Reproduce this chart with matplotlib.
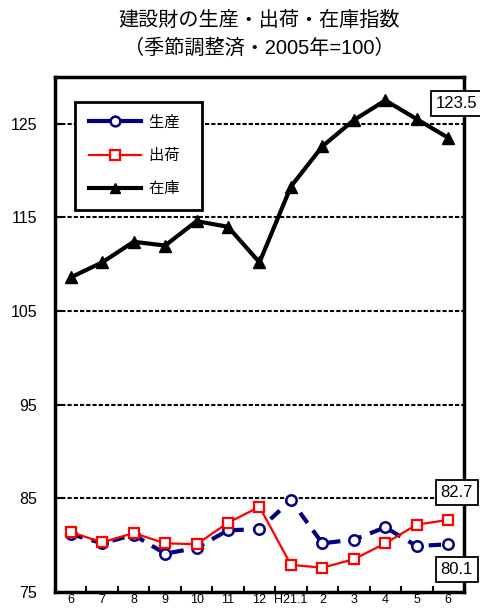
import matplotlib
matplotlib.use("Agg")
import matplotlib.pyplot as plt
from matplotlib.lines import Line2D

plt.rcParams['font.family'] = ['Liberation Sans', 'Noto Sans CJK JP', 'DejaVu Sans']

# data
months = ['6', '7', '8', '9', '10', '11', '12', 'H21.1', '2', '3', '4', '5', '6']
seisan = [81.2, 80.2, 81.1, 79.1, 79.7, 81.6, 81.7, 84.8, 80.2, 80.6, 81.9, 79.9, 80.1]
shukka = [81.4, 80.3, 81.3, 80.2, 80.1, 82.4, 84.1, 77.9, 77.6, 78.5, 80.2, 82.2, 82.7]
zaiko = [108.6, 110.2, 112.4, 112.0, 114.6, 114.0, 110.2, 118.3, 122.6, 125.4, 127.5, 125.5, 123.5]
yticks = [75, 85, 95, 105, 115, 125]

fig = plt.figure(figsize=(4.8, 6.09), dpi=100)
ax = fig.add_axes([0.1146, 0.0279, 0.852, 0.8457])

x = list(range(len(months)))

#grid lines
for yv in yticks[1:]:
    ax.axhline(yv, color='black', lw=1.5, ls=(0, (2, 1)), zorder=1)

ax.plot(x, seisan, color='#000080', lw=3, ls=(0, (3, 2.2)), marker='o', ms=7.5,
        mfc='white', mec='#000080', mew=1.8, zorder=3)
ax.plot(x, shukka, color='red', lw=1.6, marker='s', ms=6.5,
        mfc='white', mec='red', mew=1.6, zorder=4)
ax.plot(x, zaiko, color='black', lw=3, marker='^', ms=8, mfc='black', mec='black', zorder=5)

ax.set_xlim(-0.5, 12.5)
ax.set_ylim(75, 130)
ax.set_yticks(yticks)
ax.set_yticklabels([str(v) for v in yticks], fontsize=11.5)
ax.tick_params(axis='y', direction='in', length=5, width=1.5, pad=13)
ax.set_xticks(x)
ax.set_xticklabels(months, fontsize=9)
ax.tick_params(axis='x', which='major', length=0, pad=1.5)
ax.set_xticks([i + 0.5 for i in range(12)], minor=True)
ax.tick_params(axis='x', which='minor', direction='in', length=4, width=1.5)
for s in ax.spines.values():
    s.set_linewidth(2.5)

#value boxes
box = dict(boxstyle='square,pad=0.3', fc='white', ec='black', lw=1.3)
ax.text(12.27, 127.2, '123.5', ha='center', va='center', fontsize=12, bbox=box, clip_on=False, zorder=6)
ax.text(12.27, 85.6, '82.7', ha='center', va='center', fontsize=12, bbox=box, clip_on=False, zorder=6)
ax.text(12.27, 77.4, '80.1', ha='center', va='center', fontsize=12, bbox=box, clip_on=False, zorder=6)

handles = [
    Line2D([], [], color='#000080', lw=3, marker='o', ms=7, mfc='white', mec='#000080', mew=1.8),
    Line2D([], [], color='red', lw=1.6, marker='s', ms=6.5, mfc='white', mec='red', mew=1.6),
    Line2D([], [], color='black', lw=3, marker='^', ms=7.5),
]
leg = ax.legend(handles, ['生産  ', '出荷  ', '在庫  '], loc='upper left',
                bbox_to_anchor=(0.05, 0.952), fontsize=11, handlelength=3.4,
                labelspacing=1.25, borderpad=0.9, fancybox=False, framealpha=1,
                edgecolor='black', handletextpad=0.5, borderaxespad=0)
leg.get_frame().set_linewidth(2)

fig.text(0.54, 0.967, '建設財の生産・出荷・在庫指数', ha='center', va='center', fontsize=14.5)
fig.text(0.54, 0.921, '（季節調整済・2005年=100）', ha='center', va='center', fontsize=14.5)

fig.savefig('out.png', dpi=100)
